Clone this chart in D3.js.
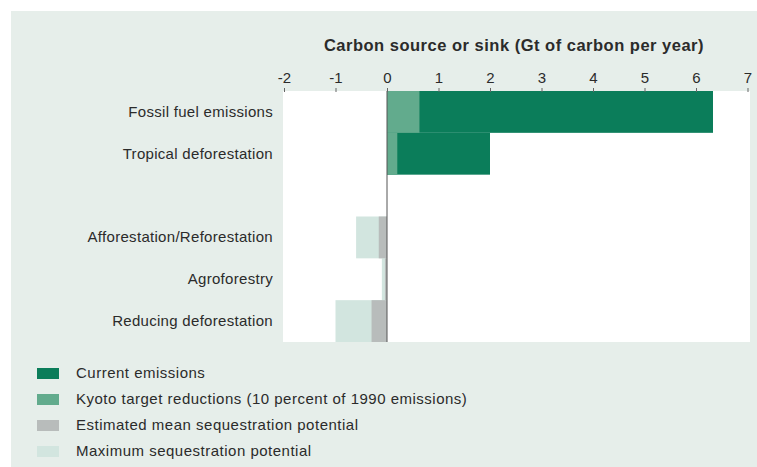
<!DOCTYPE html>
<html>
<head>
<meta charset="utf-8">
<script src="https://cdn.jsdelivr.net/npm/d3@7"></script>
<style>
  body { margin: 0; background: #fff; }
  text { font-family: "Liberation Sans", Arial, sans-serif; fill: #2b2b2b; }
</style>
</head>
<body>
<script>
(() => {
    // rows, top to bottom (empty string = gap row)
    const rows = ["Fossil fuel emissions", "Tropical deforestation", "", "Afforestation/Reforestation", "Agroforestry", "Reducing deforestation"]
    const current = [6.33, 2.0, null, null, null, null]
    const kyoto = [0.63, 0.2, null, null, null, null]
    const meanSeq = [null, null, null, -0.16, -0.04, -0.3]
    const maxSeq = [null, null, null, -0.6, -0.1, -1.0]
    const ticks = [-2, -1, 0, 1, 2, 3, 4, 5, 6, 7]
    const legendLabels = [
        "Current emissions",
        "Kyoto target reductions (10 percent of 1990 emissions)",
        "Estimated mean sequestration potential",
        "Maximum sequestration potential",
    ]
    const colors = ["#0b7d5a", "#62ab8d", "#b8bcbb", "#d2e5df"]

    const width = 757
    const height = 467
    const plot = { left: 283, right: 750, top: 91, bottom: 342 }

    const svg = d3.select("body")
        .append("svg")
        .attr("width", width)
        .attr("height", height)

    svg.append("rect")
        .attr("x", 11).attr("y", 11)
        .attr("width", width - 11).attr("height", height - 11)
        .attr("fill", "#e6eeea")

    svg.append("rect")
        .attr("x", plot.left).attr("y", plot.top)
        .attr("width", plot.right - plot.left).attr("height", plot.bottom - plot.top)
        .attr("fill", "#ffffff")

    const x = d3.scaleLinear().domain([-2, 7]).range([284, 747.5])
    const y = d3.scaleBand().domain(d3.range(rows.length)).range([plot.top, plot.bottom])

    // bars: draw base series first, overlays on top
    const layers = [
        { vals: current, color: colors[0] },
        { vals: kyoto, color: colors[1] },
        { vals: maxSeq, color: colors[3] },
        { vals: meanSeq, color: colors[2] },
    ]
    layers.forEach((layer) => {
        svg.append("g")
            .selectAll("rect")
            .data(layer.vals.map((v, i) => ({ v, i })).filter((d) => d.v != null))
            .join("rect")
            .attr("x", (d) => x(Math.min(0, d.v)))
            .attr("width", (d) => Math.abs(x(d.v) - x(0)))
            .attr("y", (d) => y(d.i))
            .attr("height", y.bandwidth())
            .attr("fill", layer.color)
    })

    // zero line
    svg.append("line")
        .attr("x1", x(0)).attr("x2", x(0))
        .attr("y1", plot.top).attr("y2", plot.bottom)
        .attr("stroke", "#555").attr("stroke-width", 1)

    // top axis
    const axis = svg.append("g")
        .attr("transform", `translate(0,${plot.top})`)
        .call(d3.axisTop(x).tickValues(ticks).tickSize(4).tickPadding(4).tickFormat(d3.format("d")))
    axis.select(".domain").remove()
    axis.selectAll(".tick line").attr("stroke", "#666").attr("transform", "translate(0,1)")
    axis.selectAll(".tick text")
        .attr("font-size", 15)
        .attr("font-family", "Liberation Sans, Arial, sans-serif")
        .attr("fill", "#2b2b2b")
        .text((d) => d < 0 ? "-" + Math.abs(d) : d)

    svg.append("text")
        .attr("x", 514).attr("y", 51)
        .attr("text-anchor", "middle")
        .attr("font-size", 16.5)
        .attr("letter-spacing", 0.5)
        .attr("font-weight", "bold")
        .text("Carbon source or sink (Gt of carbon per year)")

    // row labels
    svg.append("g")
        .selectAll("text")
        .data(rows.map((r, i) => ({ r, i })).filter((d) => d.r))
        .join("text")
        .attr("x", 273)
        .attr("y", (d) => y(d.i) + y.bandwidth() / 2 + 5)
        .attr("text-anchor", "end")
        .attr("font-size", 15)
        .attr("letter-spacing", 0.3)
        .text((d) => d.r)

    // legend
    const lg = svg.append("g").attr("transform", "translate(37,368)")
    legendLabels.forEach((label, i) => {
        lg.append("rect")
            .attr("x", 0).attr("y", i * 26)
            .attr("width", 22).attr("height", 11)
            .attr("fill", colors[i])
        lg.append("text")
            .attr("x", 39).attr("y", i * 26 + 10)
            .attr("font-size", 15)
            .attr("letter-spacing", 0.5)
            .text(label)
    })
})()
</script>
</body>
</html>
